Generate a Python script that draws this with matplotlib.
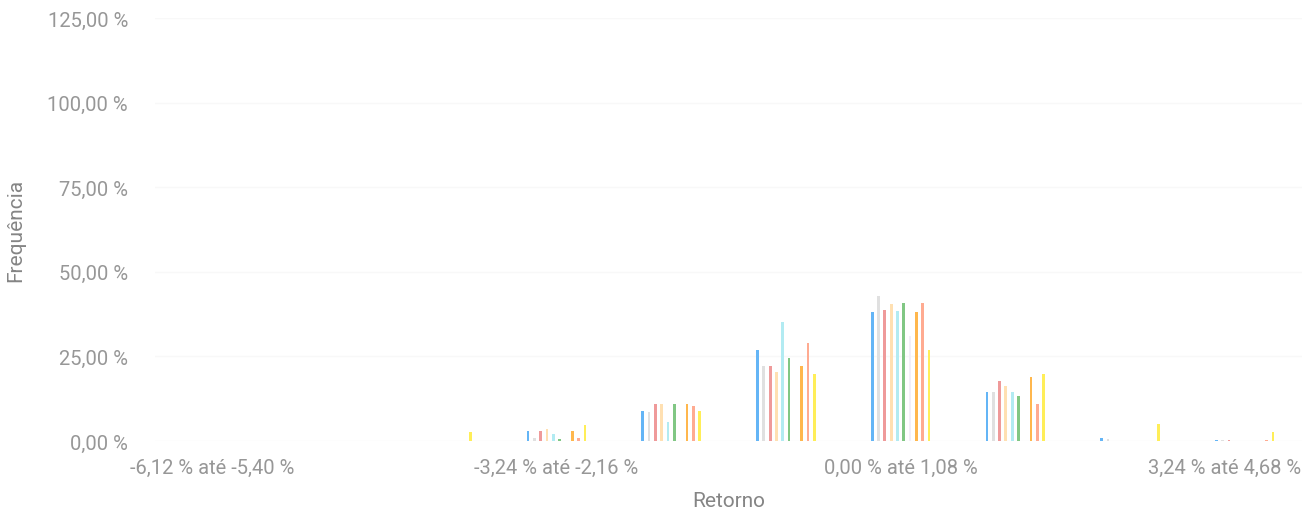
import matplotlib.pyplot as plt
import matplotlib.transforms as mtransforms
import numpy as np

# Faixas de retorno (categorias do eixo x)
faixas = ["-6,12 % até -5,40 %", "-5,40 % até -4,32 %", "-4,32 % até -3,24 %",
          "-3,24 % até -2,16 %", "-2,16 % até -1,08 %", "-1,08 % até 0,00 %",
          "0,00 % até 1,08 %", "1,08 % até 2,16 %", "2,16 % até 3,24 %",
          "3,24 % até 4,68 %"]

# Frequência (%) de cada série por faixa
serie_azul    = [0, 0, 0.1, 3.0, 9.0, 26.9, 38.2, 14.5, 1.0, 0.3]
serie_cinza   = [0, 0, 0.1, 1.0, 8.5, 22.3, 42.9, 14.5, 0.5, 0.3]
serie_verm    = [0, 0, 0.1, 3.0, 10.9, 22.3, 38.8, 17.8, 0, 0.2]
serie_pessego = [0, 0, 0.1, 3.5, 10.9, 20.4, 40.5, 16.4, 0, 0]
serie_ciano   = [0, 0, 0.1, 2.0, 5.5, 35.1, 38.5, 14.5, 0, 0]
serie_verde   = [0, 0, 0.1, 0.5, 10.9, 24.6, 40.8, 13.4, 0, 0]
serie_lilas   = [0, 0, 0, 0, 0, 0, 31.0, 0, 0, 0]
serie_laranja = [0, 0, 0.1, 3.0, 10.9, 22.3, 38.2, 18.8, 0, 0]
serie_rosa    = [0, 0, 0.1, 1.0, 10.3, 29.0, 40.8, 10.9, 0, 0.3]
serie_amarela = [0, 0, 2.8, 4.7, 9.0, 19.8, 26.9, 19.8, 5.0, 2.7]

series = [serie_azul, serie_cinza, serie_verm, serie_pessego, serie_ciano,
          serie_verde, serie_lilas, serie_laranja, serie_rosa, serie_amarela]
cores = ["#64B5F6", "#E0E0E0", "#EF9A9A", "#FFE0B2", "#B2EBF2",
         "#81C784", "#F3EEF8", "#FFB74D", "#FFAB91", "#FFEE58"]

plt.rcParams['font.family'] = ['Roboto', 'DejaVu Sans']

fig = plt.figure(figsize=(13.06, 5.10), dpi=100)
ax = fig.add_axes([0.1187, 0.1333, 0.8783, 0.8294])

x = np.arange(len(faixas))
passo = 0.055
largura = 0.024
n = len(series)
for i, (vals, cor) in enumerate(zip(series, cores)):
    ax.bar(x + (i - (n - 1) / 2) * passo, vals, width=largura, color=cor, zorder=2)

ax.set_xlim(-0.5, len(faixas) - 0.5)
ax.set_ylim(0, 125)
ax.set_yticks([0, 25, 50, 75, 100, 125])
ax.set_yticklabels([f"{v:.2f} %".replace(".", ",") for v in [0, 25, 50, 75, 100, 125]])
ax.set_xticks(x[::3])
ax.set_xticklabels(faixas[::3])

ax.grid(axis='y', color='#f8f8f8', linewidth=1, zorder=0)
for s in ax.spines.values():
    s.set_visible(False)
ax.tick_params(length=0, colors='#979797', labelsize=14.5)
ax.tick_params(axis='y', pad=19.5)
ax.tick_params(axis='x', pad=12)

# o último rótulo fica empurrado para dentro da figura
ultimo = ax.get_xticklabels()[-1]
ultimo.set_transform(ultimo.get_transform() +
                     mtransforms.ScaledTranslation(-0.20, 0, fig.dpi_scale_trans))

ax.set_xlabel('Retorno', color='#858585', fontsize=15, labelpad=10)
ax.set_ylabel('Frequência', color='#858585', fontsize=15, labelpad=16)

plt.savefig('out.png', dpi=100)
